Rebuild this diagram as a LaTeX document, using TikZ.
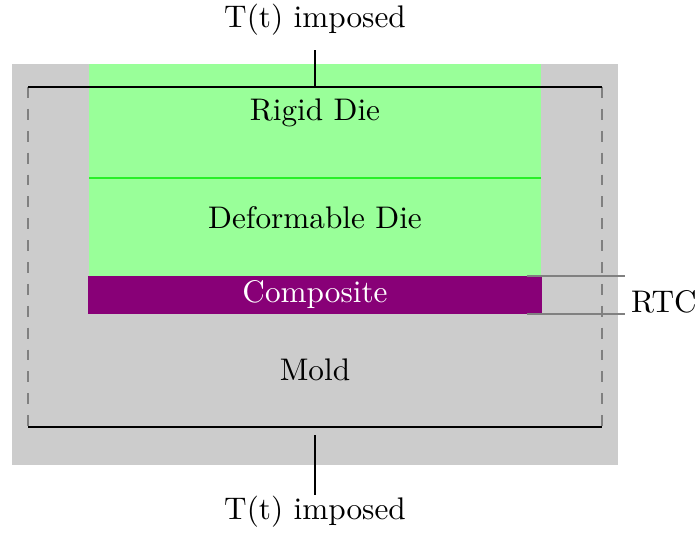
\documentclass[tikz,border=0pt]{standalone}
\usetikzlibrary{calc}
\definecolor{moldgray}{RGB}{204,204,204}
\definecolor{diegreen}{RGB}{153,255,153}
\definecolor{linegreen}{RGB}{40,240,40}
\definecolor{compviolet}{RGB}{136,0,119}
\definecolor{dashgray}{RGB}{128,128,128}
\begin{document}
\begin{tikzpicture}[x=0.32pt,y=-0.32pt,
  lbl/.style={inner sep=0pt,font=\normalsize},
  boundline/.style={black,line width=0.8pt},
  dashbox/.style={dashgray,dash pattern=on 3.5pt off 3.5pt,line width=0.7pt},
  rtcline/.style={dashgray,line width=0.35pt}]
\useasboundingbox (0,0) rectangle (697,532);
% regions
\fill[moldgray] (12,64) rectangle (618,465);
\fill[diegreen] (89,64) rectangle (541,276);
\draw[linegreen,line width=0.5pt] (89,178) -- (541,178);
\fill[compviolet] (88,276) rectangle (542,314);
% dashed domain
\draw[dashbox] (28,87) -- (28,427);
\draw[dashbox] (602,87) -- (602,427);
\coordinate (tl) at (28,87);
\coordinate (tr) at (602,87);
\coordinate (bl) at (28,427);
\coordinate (br) at (602,427);
\draw[boundline] (tl) -- (tr);
\draw[boundline] (bl) -- (br);
% labels
\node[lbl] (rigid) at (315,113) {Rigid Die};
\node[lbl] (deform) at (315,218) {Deformable Die};
\node[lbl,text=white] (comp) at (315,295) {Composite};
\node[lbl] (mold) at (315,370) {Mold};
\node[lbl] (ttop) at (315,20) {T(t) imposed};
\node[lbl] (tbot) at (315,512) {T(t) imposed};
\node[lbl] (rtc) at (664,302) {RTC};
% connectors
\coordinate (ttopend) at (315,87);
\coordinate (ttopstart) at (315,50);
\draw[boundline] (ttopstart) -- (ttopend);
\coordinate (tbotstart) at (315,435);
\coordinate (tbotend) at (315,495);
\draw[boundline] (tbotstart) -- (tbotend);
% RTC marks
\coordinate (r1a) at (527,276);
\coordinate (r1b) at (625,276);
\coordinate (r2a) at (527,314);
\coordinate (r2b) at (625,314);
\draw[rtcline] (r1a) -- (r1b);
\draw[rtcline] (r2a) -- (r2b);
\end{tikzpicture}
\end{document}
